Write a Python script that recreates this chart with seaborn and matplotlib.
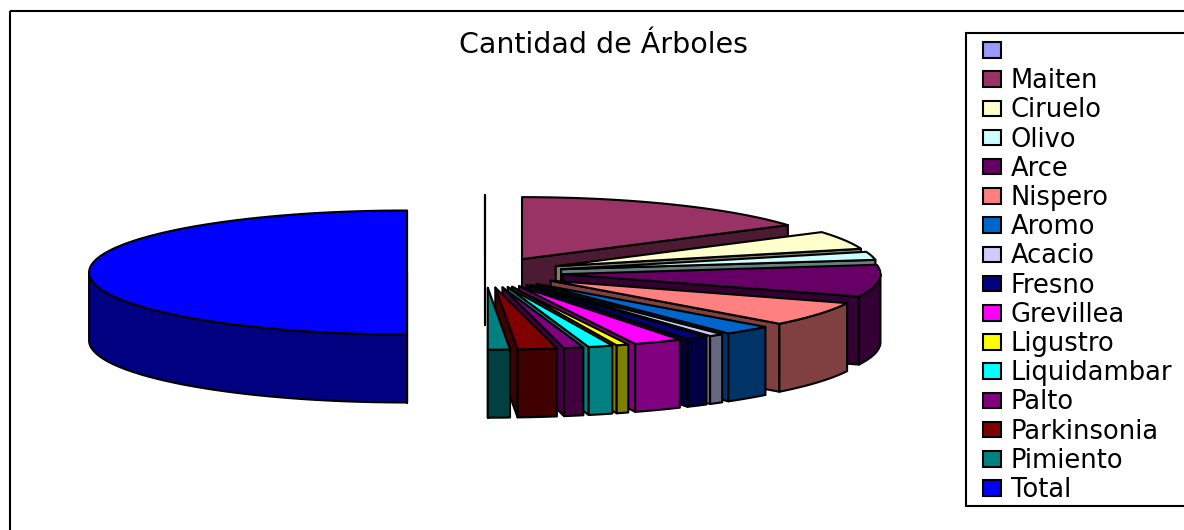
import numpy as np
import seaborn as sns
import matplotlib
matplotlib.use("Agg")
import matplotlib.pyplot as plt
from matplotlib.patches import Polygon, Patch, Rectangle

categories = ["", "Maiten", "Ciruelo", "Olivo", "Arce", "Nispero", "Aromo", "Acacio",
              "Fresno", "Grevillea", "Ligustro", "Liquidambar", "Palto", "Parkinsonia",
              "Pimiento", "Total"]
values = [0, 127, 38, 17, 67, 51, 20, 6, 9, 20, 5, 10, 8, 16, 9, 403]
colors = ["#9999FF", "#993366", "#FFFFCC", "#CCFFFF", "#660066", "#FF8080", "#0066CC", "#CCCCFF",
          "#000080", "#FF00FF", "#FFFF00", "#00FFFF", "#800080", "#800000", "#008080", "#0000FF"]
title = "Cantidad de Árboles"

sns.set_theme(style="white")
plt.rcParams["font.family"] = ["DejaVu Sans"]
palette = sns.color_palette(colors)

W, H = 1184, 530
fig = plt.figure(figsize=(W / 100, H / 100), dpi=100)
ax = fig.add_axes([0, 0, 1, 1])
ax.set_xlim(0, W)
ax.set_ylim(H, 0)
ax.axis("off")

# projection of the tilted pie
CX, CY, RX, RY, DEPTH, EXPLODE = 485, 272.5, 318, 62, 68, 0.245
LW = 1.5


def arc(apex, a0, a1, dz=0):
    t = np.linspace(a0, a1, max(2, int(abs(a1 - a0) * 80)))
    return np.column_stack([apex[0] + RX * np.sin(t), apex[1] + dz - RY * np.cos(t)])


def face(points, color, z):
    ax.add_patch(Polygon(points, closed=True, facecolor=color, edgecolor="black",
                         linewidth=LW, joinstyle="round", zorder=z))


angles = 2 * np.pi * np.array(values) / np.sum(values)
edges = np.concatenate([[0], np.cumsum(angles)])

for i, col in enumerate(palette):
    a0, a1 = edges[i], edges[i + 1]
    mid = (a0 + a1) / 2
    apex = (CX + EXPLODE * RX * np.sin(mid), CY - EXPLODE * RY * np.cos(mid))
    side = tuple(c * 0.5 for c in col)
    z = 2 + i
    # radial cut face
    cut = a1 if a1 <= np.pi + 1e-9 else a0
    p = arc(apex, cut, cut + 1e-6)[0]
    face([apex, p, (p[0], p[1] + DEPTH), (apex[0], apex[1] + DEPTH)], side, z)
    # outer wall on the front half of the pie
    lo, hi = max(a0, np.pi / 2), min(a1, 3 * np.pi / 2)
    if hi > lo:
        face(np.vstack([arc(apex, lo, hi), arc(apex, hi, lo, DEPTH)]), side, z)
    # top face
    face(np.vstack([[apex], arc(apex, a0, a1)]) if a1 > a0 else
         [apex, arc(apex, a0, a0 + 1e-6)[0]], col, z)

ax.add_patch(Rectangle((10, 11), 1400, 1000, fill=False, edgecolor="black", linewidth=LW, zorder=1))
ax.text(603.5, 45, title, ha="center", va="center", fontsize=20.5, color="black")

# legend frame, open past the right edge like the reference
ax.add_patch(Rectangle((966, 33), 400, 473, facecolor="white", edgecolor="black",
                       linewidth=LW, zorder=29))
handles = [Patch(facecolor=c, edgecolor="black", linewidth=LW) for c in palette]
leg = ax.legend(handles, categories, loc="upper left", bbox_to_anchor=(966, 22),
                bbox_transform=ax.transData, borderaxespad=0, fontsize=18.5,
                frameon=False, handlelength=0.7, handleheight=0.55, handletextpad=0.39,
                borderpad=0.66, labelspacing=0.125, labelcolor="black")
leg.set_zorder(30)

fig.savefig("out.png", dpi=100, facecolor="white")
